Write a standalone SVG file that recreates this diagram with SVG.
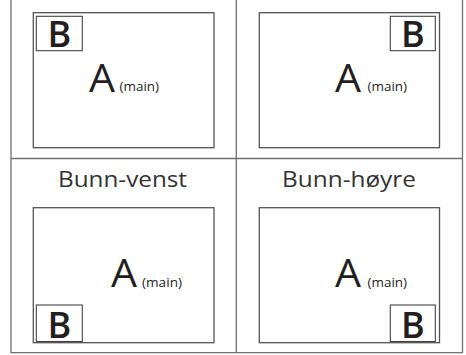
<svg xmlns="http://www.w3.org/2000/svg" width="466" height="355" viewBox="0 0 466 355">
<style>
.frame{stroke:#707070;stroke-width:1.3;fill:none}
.scr{stroke:#555;stroke-width:1.3;fill:#fff}
.bbox{stroke:#444;stroke-width:1.1;fill:#fff}
text{font-family:"Open Sans","DejaVu Sans",sans-serif;fill:#231f20}
.b{font-size:36px;font-weight:600}
.a{font-size:38px}
.m{font-size:13px}
.lbl{font-size:22px;fill:#333}
</style>
<rect width="466" height="355" fill="#fff"/>
<g id="frame">
<line class="frame" x1="11" y1="0" x2="11" y2="353"/>
<line class="frame" x1="462.5" y1="0" x2="462.5" y2="353"/>
<line class="frame" x1="236.3" y1="0" x2="236.3" y2="353"/>
<line class="frame" x1="11" y1="158.5" x2="462.5" y2="158.5"/>
<line class="frame" x1="11" y1="352.7" x2="462.5" y2="352.7"/>
</g>
<g id="top-left">
<rect class="scr" x="33.3" y="12.7" width="180.7" height="135"/>
<rect class="bbox" x="36.3" y="16.3" width="46" height="34.4"/>
<text class="b" x="59.3" y="46.7" text-anchor="middle">B</text>
<text class="a" x="89" y="91.7" textLength="26" lengthAdjust="spacingAndGlyphs">A</text>
<text class="m" x="119.5" y="91" textLength="39.5" lengthAdjust="spacingAndGlyphs">(main)</text>
</g>
<g id="top-right">
<rect class="scr" x="259.3" y="12.7" width="180.2" height="135"/>
<rect class="bbox" x="390.3" y="16.3" width="45" height="34.4"/>
<text class="b" x="412.8" y="46.7" text-anchor="middle">B</text>
<text class="a" x="335" y="91.7" textLength="26" lengthAdjust="spacingAndGlyphs">A</text>
<text class="m" x="367.5" y="91" textLength="39.5" lengthAdjust="spacingAndGlyphs">(main)</text>
</g>
<g id="bottom-left">
<text class="lbl" x="58" y="186.7" textLength="129" lengthAdjust="spacingAndGlyphs">Bunn-venst</text>
<rect class="scr" x="33.3" y="207.7" width="180.7" height="135"/>
<rect class="bbox" x="36.3" y="305" width="46" height="36.5"/>
<text class="b" x="59.3" y="338" text-anchor="middle">B</text>
<text class="a" x="111" y="287" textLength="26" lengthAdjust="spacingAndGlyphs">A</text>
<text class="m" x="142" y="286.5" textLength="40" lengthAdjust="spacingAndGlyphs">(main)</text>
</g>
<g id="bottom-right">
<text class="lbl" x="282" y="186.7" textLength="134" lengthAdjust="spacingAndGlyphs">Bunn-høyre</text>
<rect class="scr" x="259.3" y="207.7" width="180.2" height="135"/>
<rect class="bbox" x="390.3" y="305" width="45" height="36.5"/>
<text class="b" x="412.8" y="338" text-anchor="middle">B</text>
<text class="a" x="335" y="287" textLength="26" lengthAdjust="spacingAndGlyphs">A</text>
<text class="m" x="367.5" y="286.5" textLength="39.5" lengthAdjust="spacingAndGlyphs">(main)</text>
</g>
</svg>
